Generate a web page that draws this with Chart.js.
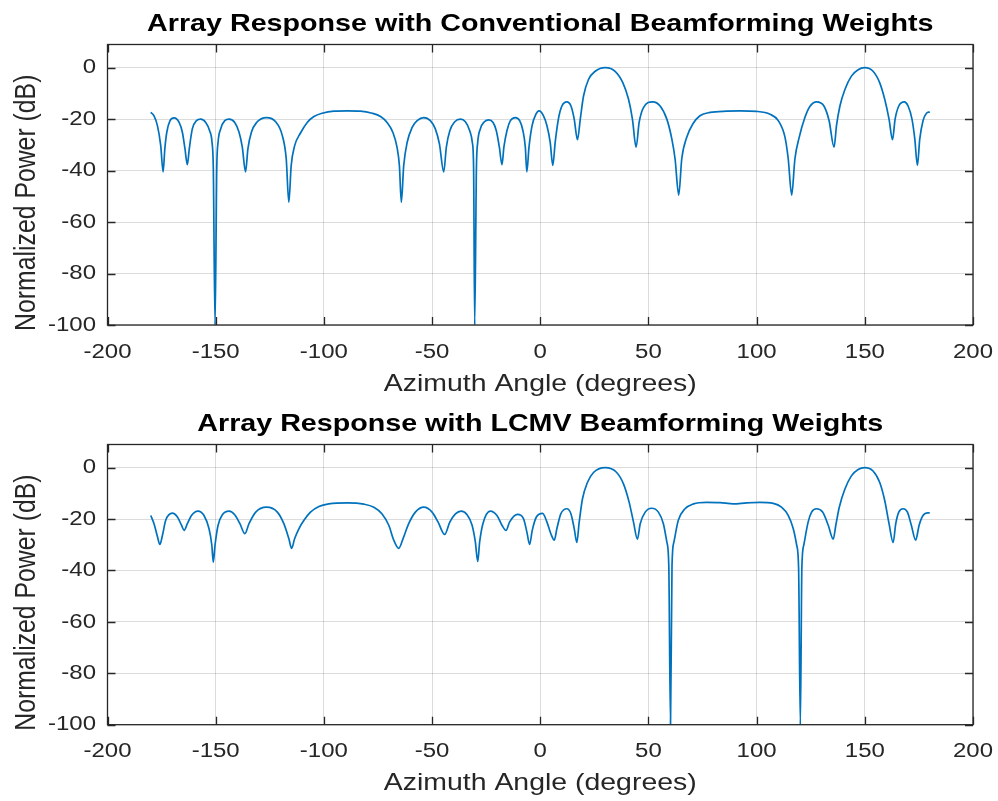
<!DOCTYPE html>
<html>
<head>
<meta charset="utf-8">
<script src="https://cdn.jsdelivr.net/npm/chart.js@4.4.1/dist/chart.umd.min.js"></script>
<style>
html,body{margin:0;padding:0;background:#ffffff;}
#wrap{position:relative;width:998px;height:801px;overflow:hidden;}
canvas{position:absolute;left:0;}
</style>
</head>
<body>
<div id="wrap">
<canvas id="c1" width="998" height="400" style="top:0px"></canvas>
<canvas id="c2" width="998" height="401" style="top:400px"></canvas>
</div>
<script>
// ---------- data ----------
const xTickValues = [-200, -150, -100, -50, 0, 50, 100, 150, 200];
const yTickValues = [-100, -80, -60, -40, -20, 0];

const titleConv = 'Array Response with Conventional Beamforming Weights';
const titleLcmv = 'Array Response with LCMV Beamforming Weights';
const xLabel = 'Azimuth Angle (degrees)';
const yLabel = 'Normalized Power (dB)';

const convAngle = [
  -180, -178.5, -176.9, -175.4, -174.3, -173.5, -172.6, -171.1, -169.2, -166.9,
  -165.4, -164.2, -163.1, -162.2, -160.8, -158.9, -156.9, -154.6, -152.8, -151.7,
  -151.1, -150.3, -149.5, -148.9, -147.7, -145.8, -143.8, -141.2, -139.2, -137.7,
  -136.2, -135.1, -133.5, -131.1, -126.5, -122.3, -119.2, -117.4, -116.2, -115.1,
  -113.5, -110.8, -107.7, -104.6, -100.8, -95.4, -89.2, -83.1, -77.7, -73.8,
  -70.8, -68, -66.2, -65.1, -64.2, -63.1, -61.5, -59.2, -56.9, -53.8,
  -50.8, -48.5, -46.6, -44.6, -43.4, -41.8, -39.5, -36.9, -34.6, -32.6,
  -31.4, -30.8, -30.3, -29.5, -28.9, -27.7, -25.8, -23.8, -21.8, -20.3,
  -18.9, -17.7, -16.8, -15.4, -13.8, -11.5, -9.5, -8, -6.9, -6.2,
  -5.2, -3.8, -2, -0.6, 1.5, 3.1, 4.6, 5.8, 6.9, 8.5,
  10, 12.3, 14.2, 15.7, 17.2, 18.5, 20, 22.3, 25.4, 30,
  34.6, 38.2, 40.8, 42.6, 44.3, 45.7, 47.7, 52, 55.4, 58.5,
  60.8, 62.3, 64, 65.4, 67.7, 70.5, 73.8, 78.5, 86.2, 92.3,
  100, 106.2, 110, 113.1, 114.6, 116.2, 117.7, 119.7, 122.3, 124.6,
  127.7, 131.1, 133.5, 135.8, 136.9, 138.5, 140.8, 143.8, 146.9, 150,
  153.8, 156.9, 159.2, 161.2, 162.8, 164, 165.7, 168.2, 170, 171.8,
  173.1, 174.3, 175.4, 176.9, 178.5, 180
];
const convPower = [
  -17.4, -18.7, -22.6, -30.3, -40.5, -31.5, -25.1, -20.6, -19.5, -21.3,
  -25.1, -31.5, -37.7, -31.5, -23.8, -20.6, -20, -21.3, -24.5, -29,
  -39, -100, -39, -29, -23.8, -20.6, -20, -21.3, -25.1, -30.9,
  -40.5, -31.5, -25.1, -21.3, -19.4, -21, -26.4, -35.4, -52.3, -38,
  -30.3, -25.4, -21.3, -19, -17.7, -16.9, -16.8, -16.9, -17.7, -19,
  -21.3, -25.4, -30.9, -38, -52.3, -38, -29, -23.2, -20.6, -19.4,
  -20.6, -23.8, -29.6, -40.5, -30.9, -24.5, -21, -20, -21, -24.5,
  -29, -39, -100, -39, -29, -23.8, -21, -20.3, -21.3, -24.5,
  -30.9, -37.7, -30.9, -24.5, -20.6, -19.4, -20.6, -24.5, -30.9, -40.5,
  -30.9, -22.6, -18.1, -16.8, -18.7, -22.6, -29, -38, -29, -19.4,
  -14.9, -13.3, -14.9, -20, -28, -20, -11, -4.6, -1.4, 0,
  -1.4, -5.9, -12.3, -20, -30.9, -21.3, -15.5, -13.3, -14.9, -20,
  -27.7, -35.4, -49.5, -35.4, -27, -21.9, -18.7, -17.4, -16.9, -16.8,
  -17, -18.1, -20.6, -27, -35.4, -49.5, -35.4, -27, -19.4, -15.1,
  -13.3, -14.9, -20.6, -30.9, -22.6, -14.9, -8.5, -3.3, -0.8, 0,
  -1.4, -5.9, -12.3, -20, -28, -20, -14.9, -13.3, -14.9, -20,
  -27.7, -38, -27.7, -20.6, -17.7, -17.2
];

const lcmvAngle = [
  -180, -178.5, -176.9, -175.8, -174.6, -173.1, -170, -167.7, -165.8, -164.6,
  -163.1, -161.2, -158.2, -155.4, -153.1, -151.8, -151.1, -150.3, -148.9, -146.9,
  -143.8, -141.2, -138.8, -136.5, -134.6, -131.5, -126.5, -121.5, -118.5, -116.2,
  -114.9, -113.5, -111.5, -109.2, -106.2, -102.3, -97.7, -89.2, -81.5, -76.9,
  -73.1, -70, -67.7, -65.4, -63.4, -60.8, -57.7, -53.8, -50, -47.2,
  -44.2, -41.8, -39.2, -36.6, -33.8, -31.5, -30, -28.9, -28, -26.5,
  -23.1, -20, -17.7, -15.8, -14.2, -10.5, -7.7, -6.2, -4.9, -3.7,
  -1.8, 1.1, 3.1, 4.9, 6.5, 7.7, 9.5, 12.3, 14.2, 15.7,
  16.9, 18, 19.5, 21.8, 24.6, 30, 35.1, 38.5, 41.1, 43.1,
  44.9, 46.2, 48.5, 51.5, 54.6, 56.9, 58.5, 59.4, 60.2, 60.9,
  61.8, 63.8, 66.9, 70.8, 76.9, 83.1, 89.2, 95.4, 101.5, 107.7,
  111.5, 114.6, 116.9, 118.5, 119.4, 120.2, 120.9, 121.8, 123.8, 125.4,
  127.7, 130.5, 133.1, 135.4, 136.6, 138.2, 140.8, 143.8, 146.9, 150,
  153.8, 156.9, 159.2, 161.2, 163.1, 164.3, 165.7, 167.7, 169.7, 171.5,
  173.5, 175.1, 176.9, 179.2, 180
];
const lcmvPower = [
  -18.6, -21.8, -26.9, -29.9, -26.3, -20.5, -17.7, -19.2, -22.4, -24.4,
  -21.8, -18.6, -16.9, -18.6, -23.7, -30.1, -36.8, -30.1, -22.4, -18.3,
  -16.9, -18.3, -21.8, -25.7, -21.8, -17.3, -15.4, -17.3, -21.8, -27.6,
  -31.4, -27.6, -23.7, -20.5, -17.3, -15.1, -14.1, -13.7, -14.2, -15.4,
  -18, -22.4, -28.2, -31.4, -27.6, -21.8, -17.3, -15.4, -17.3, -21.2,
  -26, -21.2, -18, -16.9, -18.3, -22.4, -28.9, -36.5, -28.9, -21.8,
  -16.9, -18.6, -22.4, -24.4, -21.2, -18.2, -19.9, -25, -29.9, -24.4,
  -19.2, -17.8, -21.2, -25.7, -28.2, -23.7, -18, -16, -18, -23.7,
  -29.1, -21.2, -12.2, -5.8, -1.9, 0, -1.7, -6.4, -13.5, -21.2,
  -27.8, -21.8, -17.3, -15.8, -17.3, -21.8, -28.9, -37.8, -100, -37.8,
  -28.9, -20.5, -16, -14.1, -13.5, -13.6, -14.1, -13.7, -13.5, -13.9,
  -15.4, -18.6, -23.7, -30.1, -39.1, -100, -39.1, -30.1, -21.2, -17.3,
  -16, -17.3, -22.4, -27.8, -22.4, -15.4, -8.3, -3.2, -0.7, 0,
  -1.3, -5.8, -12.8, -21.8, -29.1, -21.8, -17.3, -16, -17.3, -22.4,
  -28.2, -22.4, -18.6, -17.6, -17.6
];

// ---------- styling ----------
const FONT = "'Liberation Sans', Arial, Helvetica, sans-serif";
const AXIS_COLOR = '#262626';
const LINE_COLOR = '#0072BD';
const TEXT_STRETCH = 1.17;   // reference text is wider than tall

const stretchTextPlugin = {
  id: 'stretchText',
  beforeInit(chart) {
    const ctx = chart.ctx;
    const orig = ctx.fillText.bind(ctx);
    ctx.fillText = function (text, x, y, maxWidth) {
      const m = ctx.getTransform();
      const p = m.transformPoint(new DOMPoint(x, y));
      ctx.save();
      const s = new DOMMatrix().translate(p.x, p.y).scale(TEXT_STRETCH, 1).translate(-p.x, -p.y).multiply(m);
      ctx.setTransform(s);
      if (maxWidth === undefined) orig(text, x, y); else orig(text, x, y, maxWidth);
      ctx.restore();
    };
  }
};

const framePlugin = {
  id: 'frame',
  afterDraw(chart) {
    const {ctx, chartArea: a, scales} = chart;
    const TL = 8;
    ctx.save();
    ctx.strokeStyle = AXIS_COLOR;
    ctx.lineWidth = 1.3;
    ctx.beginPath();
    scales.x.ticks.forEach(t => {
      const px = Math.round(scales.x.getPixelForValue(t.value)) + 0.5;
      ctx.moveTo(px, a.bottom); ctx.lineTo(px, a.bottom - TL);
      ctx.moveTo(px, a.top); ctx.lineTo(px, a.top + TL);
    });
    scales.y.ticks.forEach(t => {
      const py = Math.round(scales.y.getPixelForValue(t.value)) + 0.5;
      ctx.moveTo(a.left, py); ctx.lineTo(a.left + TL, py);
      ctx.moveTo(a.right, py); ctx.lineTo(a.right - TL, py);
    });
    ctx.stroke();
    ctx.strokeRect(a.left, a.top, a.right - a.left, a.bottom - a.top);
    // y-axis label (rotated), placed as in the reference
    ctx.fillStyle = AXIS_COLOR;
    ctx.font = "24.8px " + FONT;
    ctx.textAlign = 'center';
    ctx.textBaseline = 'middle';
    ctx.translate(27, (a.top + a.bottom) / 2 + 18);
    ctx.rotate(-Math.PI / 2);
    ctx.fillText(yLabel, 0, 0);
    ctx.restore();
  }
};

function makeChart(id, titleText, angles, power, xAxisHeight, xTitlePad) {
  const points = angles.map((a, i) => ({x: a, y: power[i]}));
  return new Chart(document.getElementById(id), {
    type: 'line',
    data: {
      datasets: [{
        data: points,
        borderColor: LINE_COLOR,
        borderWidth: 1.7,
        pointRadius: 0,
        fill: false,
        cubicInterpolationMode: 'monotone'
      }]
    },
    options: {
      responsive: false,
      animation: false,
      devicePixelRatio: 1,
      layout: {padding: {left: 0, right: 25, top: 0, bottom: 0}},
      plugins: {
        legend: {display: false},
        tooltip: {enabled: false},
        title: {
          display: true,
          text: titleText,
          fullSize: false,
          color: '#000000',
          font: {family: FONT, size: 24.5, weight: 'bold', lineHeight: 1.2},
          padding: {top: 9.3, bottom: 5.8}
        }
      },
      scales: {
        x: {
          type: 'linear',
          min: -200, max: 200,
          afterBuildTicks: s => { s.ticks = xTickValues.map(v => ({value: v})); },
          afterFit: s => { s.height = xAxisHeight; },
          grid: {color: 'rgba(38,38,38,0.16)', lineWidth: 1, drawTicks: false},
          border: {display: false},
          ticks: {color: AXIS_COLOR, font: {family: FONT, size: 20.5, lineHeight: 2.634}, padding: 0, maxRotation: 0},
          title: {display: true, text: xLabel, color: AXIS_COLOR,
                  font: {family: FONT, size: 24.3, lineHeight: 1.2}, padding: {top: 0, bottom: xTitlePad}}
        },
        y: {
          type: 'linear',
          min: -100, max: 9,
          afterBuildTicks: s => { s.ticks = yTickValues.map(v => ({value: v})); },
          afterFit: s => { s.width = 107.5; },
          grid: {color: 'rgba(38,38,38,0.16)', lineWidth: 1, drawTicks: false},
          border: {display: false},
          ticks: {color: AXIS_COLOR, font: {family: FONT, size: 20.5}, padding: 11.5},
          title: {display: false, text: yLabel}
        }
      }
    },
    plugins: [stretchTextPlugin, framePlugin]
  });
}

makeChart('c1', titleConv, convAngle, convPower, 75, 1.4);
makeChart('c2', titleLcmv, lcmvAngle, lcmvPower, 76.3, 3.4);
</script>
</body>
</html>
